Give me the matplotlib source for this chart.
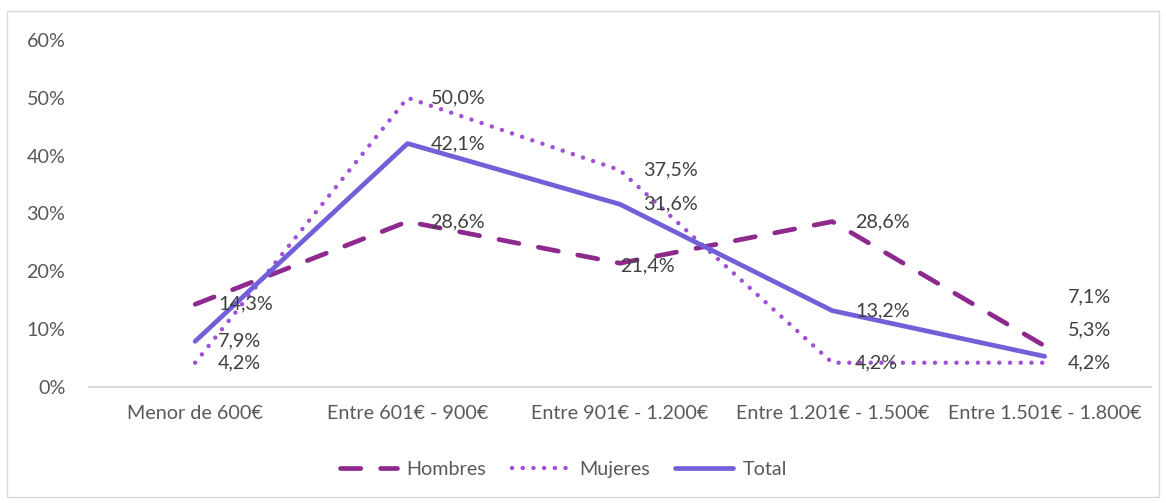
import matplotlib
matplotlib.use("Agg")
import matplotlib.pyplot as plt
from matplotlib.patches import Rectangle
from matplotlib.ticker import FuncFormatter

categories = ["Menor de 600€", "Entre 601€ - 900€", "Entre 901€ - 1.200€",
              "Entre 1.201€ - 1.500€", "Entre 1.501€ - 1.800€"]
hombres = [0.143, 0.286, 0.214, 0.286, 0.071]
mujeres = [0.042, 0.500, 0.375, 0.042, 0.042]
total = [0.079, 0.421, 0.316, 0.132, 0.053]

plt.rcParams['font.family'] = ['Lato', 'DejaVu Sans']
txt_color = '#595959'
fs = 14.2

fig = plt.figure(figsize=(11.66, 5.03), dpi=100)
ax = fig.add_axes([0.0763, 0.2306, 0.9107, 0.6899])

x = list(range(len(categories)))
ax.plot(x, hombres, color='#8e2a8e', lw=3.4, dashes=(4.3, 4.2), dash_capstyle='round',
        label='Hombres')
ax.plot(x, mujeres, color='#a050d8', lw=3.2, dashes=(0.01, 2.4), dash_capstyle='round',
        label='Mujeres')
ax.plot(x, total, color='#7160d8', lw=3.4, solid_capstyle='round', label='Total')

# data labels to the right of each point; a few nudged like in the original
nudge = {('h', 2): (-16, -2), ('h', 4): (0, 35), ('t', 4): (0, 19)}
for key, series in (('h', hombres), ('m', mujeres), ('t', total)):
    for xi, v in zip(x, series):
        dx, dy = nudge.get((key, xi), (0, 0))
        ax.annotate(f"{v * 100:.1f}%".replace('.', ','), (xi, v), xytext=(16.5 + dx, dy),
                    textcoords='offset points', va='center', ha='left',
                    fontsize=fs, color='#404040')

ax.set_xlim(-0.5, len(categories) - 0.5)
ax.set_ylim(0, 0.6)
ax.set_yticks([0, 0.1, 0.2, 0.3, 0.4, 0.5, 0.6])
ax.yaxis.set_major_formatter(FuncFormatter(lambda v, p: f"{v * 100:.0f}%"))
ax.set_xticks(x)
ax.set_xticklabels(categories)
ax.tick_params(axis='both', length=0, labelsize=fs, labelcolor=txt_color)
ax.tick_params(axis='y', pad=17)
ax.tick_params(axis='x', pad=13)
for side in ('top', 'right', 'left'):
    ax.spines[side].set_visible(False)
ax.spines['bottom'].set_color('#d9d9d9')
ax.spines['bottom'].set_linewidth(1.5)

leg = fig.legend(loc='center', bbox_to_anchor=(0.483, 0.066), ncol=3, frameon=False,
                 fontsize=fs, handlelength=2.9, columnspacing=1.3, handletextpad=0.5)
for t in leg.get_texts():
    t.set_color(txt_color)

# outer chart border
fig.patches.append(Rectangle((0.006, 0.012), 0.988, 0.966, transform=fig.transFigure,
                             fill=False, edgecolor='#d9d9d9', lw=1))

fig.savefig('out.png', dpi=100)
